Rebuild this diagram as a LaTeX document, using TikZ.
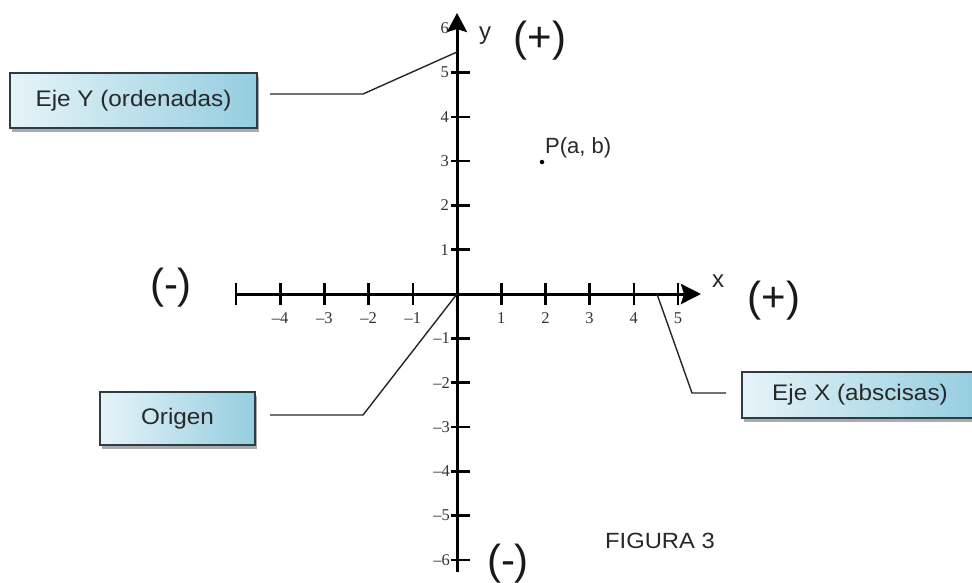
\documentclass[tikz,border=0pt]{standalone}
\usepackage{fontspec}
\setmainfont{Liberation Sans}
\newfontfamily\serifnum{Liberation Serif}
\newfontfamily\boxfont{Liberation Sans}[FakeStretch=1.08]
\usetikzlibrary{arrows.meta,shadows}
\definecolor{boxL}{RGB}{230,244,248}
\definecolor{boxR}{RGB}{148,205,224}
\definecolor{boxborder}{RGB}{45,60,70}
\definecolor{txtgray}{RGB}{40,40,40}
\tikzset{
  lblbox/.style={draw=boxborder, line width=1.8pt, left color=boxL, right color=boxR,
    inner sep=0pt, font=\boxfont\fontsize{22.5}{26}\selectfont, text=txtgray,
    drop shadow={shadow xshift=2pt, shadow yshift=-4pt, fill=black!55, opacity=0.6}},
  conn/.style={line width=1.4pt, draw=black!85},
  axisline/.style={line width=3pt, draw=black},
  tickmark/.style={line width=2.6pt, draw=black},
  ticklbl/.style={font=\serifnum\fontsize{16.5}{18}\selectfont, text=black!80, inner sep=0pt},
  signlbl/.style={font=\fontsize{42}{48}\selectfont, text=black!90, inner sep=0pt, anchor=base},
  axislbl/.style={font=\fontsize{24}{28}\selectfont, text=txtgray, inner sep=0pt, anchor=base},
}
\begin{document}
\begin{tikzpicture}[x=1pt,y=-1pt]
\useasboundingbox[fill=white] (0,0) rectangle (972,582);
\begin{scope}
\clip (0,0) rectangle (972,582);
% coordinates
\coordinate (O) at (457,294);
\coordinate (xl) at (237,294);
\coordinate (xr) at (701,294);
\coordinate (yb) at (457,572);
\coordinate (yt) at (457,13);
% axes
\draw[axisline, -{Stealth[length=20pt,width=20pt,inset=3pt]}] (xl) -- (xr);
\draw[axisline, -{Stealth[length=19pt,width=20pt,inset=3pt]}] (yb) -- (yt);
% x ticks
\foreach \i in {-5,-4,-3,-2,-1,1,2,3,4,5}{
  \draw[tickmark] ({457+44.2*\i},283) -- ({457+44.2*\i},305);
}
\foreach \i in {-4,-3,-2,-1}{
  \node[ticklbl] (xt\i) at ({457+44.2*\i},318) {–\the\numexpr-\i\relax};
}
\foreach \i in {1,2,3,4,5}{
  \node[ticklbl] (xt\i) at ({457+44.2*\i},318) {\i};
}
% y ticks
\foreach \i in {-6,-5,-4,-3,-2,-1,1,2,3,4,5}{
  \draw[tickmark] (451,{294-44.3*\i}) -- (470,{294-44.3*\i});
}
\foreach \i in {1,2,3,4,5,6}{
  \node[ticklbl, anchor=east] (yt\i) at (449,{294-44.3*\i}) {\i};
}
\foreach \i in {-1,-2,-3,-4,-5,-6}{
  \node[ticklbl, anchor=east] (ytm\i) at (450,{294-44.3*\i}) {–\the\numexpr-\i\relax};
}
% axis labels and signs
\node[axislbl] (xlab) at (718,287) {x};
\node[axislbl] (ylab) at (485,39) {y};
\node[signlbl] (ypos) at (540,51) {(+)};
\node[signlbl] (xpos) at (774,311) {(+)};
\node[signlbl] (xneg) at (171,298) {(-)};
\node[signlbl] (yneg) at (508,574) {(-)};
% point
\node[circle, fill=black, inner sep=0pt, minimum size=4.5pt] (P) at (542,162) {};
\node[font=\fontsize{22}{26}\selectfont, text=txtgray, inner sep=0pt, anchor=base west] (Plab) at (545,153) {P(a, b)};
% figure caption
\node[font=\boxfont\fontsize{22}{26}\selectfont, text=txtgray, inner sep=0pt, anchor=base west] (fig) at (605,548) {FIGURA 3};
% label boxes
\node[lblbox, minimum width=247pt, minimum height=55pt] (ybox) at (133.5,100.5) {Eje Y (ordenadas)};
\node[lblbox, minimum width=155pt, minimum height=53pt] (obox) at (177.5,418.5) {Origen};
\node[lblbox, minimum width=236pt, minimum height=46pt] (xbox) at (860,395) {Eje X (abscisas)};
% connectors
\coordinate (cy1) at (270,94);
\coordinate (cy2) at (363,94);
\coordinate (cy3) at (457,52);
\draw[conn] (cy1) -- (cy2) -- (cy3);
\coordinate (co1) at (270,415);
\coordinate (co2) at (363,415);
\draw[conn] (co1) -- (co2) -- (O);
\coordinate (cx1) at (657,294);
\coordinate (cx2) at (692,393);
\coordinate (cx3) at (726,393);
\draw[conn] (cx1) -- (cx2) -- (cx3);
\end{scope}
\end{tikzpicture}
\end{document}
